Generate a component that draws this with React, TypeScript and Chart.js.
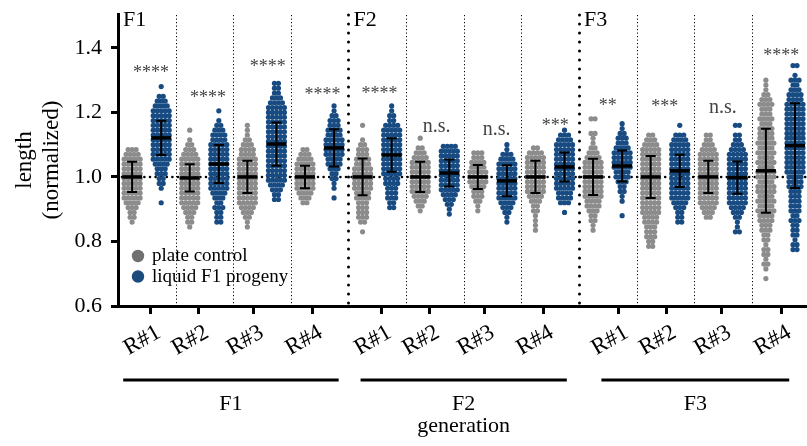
import React, { useEffect, useRef } from 'react';
import { Chart, registerables } from 'chart.js';

Chart.register(...registerables);

// ---------------- data ----------------
const generations = ['F1', 'F2', 'F3'];
const replicates = ['R#1', 'R#2', 'R#3', 'R#4'];
const xTickLabels = generations.flatMap(() => replicates);
// tick marks (in group units; group i spans [i, i+1])
const xTickPos = [0.572, 1.405, 2.358, 3.381, 4.578, 5.41, 6.364, 7.387, 8.688, 9.52, 10.474, 11.514];
const yTicks = [0.6, 0.8, 1.0, 1.2, 1.4];

// beeswarm rows: value of first row and number of dots per row (row step ROW_STEP)
const ROW_STEP = 0.015;
const plateStart = [0.86, 0.845, 0.845, 0.92, 0.83, 0.895, 0.895, 0.835, 0.835, 0.785, 0.875, 0.685];
const plateCounts = [
  [1, 2, 2, 3, 4, 5, 5, 5, 5, 5, 5, 5, 5, 5, 4, 3],
  [1, 2, 2, 3, 4, 5, 5, 5, 5, 5, 5, 5, 5, 5, 5, 4, 3, 2, 1, 0, 1],
  [1, 1, 2, 3, 4, 5, 5, 5, 5, 5, 5, 5, 5, 5, 5, 4, 4, 3, 2, 1, 1, 1],
  [2, 3, 4, 5, 5, 5, 5, 5, 5, 4, 3, 2],
  [1, 0, 2, 3, 3, 3, 3, 4, 4, 5, 5, 5, 5, 5, 4, 4, 3, 3, 2, 1, 0, 0, 1],
  [1, 2, 3, 4, 5, 5, 5, 5, 5, 5, 5, 4, 3, 2, 0, 1],
  [1, 1, 2, 3, 3, 4, 5, 5, 5, 4, 4, 3, 3],
  [1, 1, 1, 1, 2, 2, 3, 4, 5, 5, 5, 5, 5, 5, 5, 5, 4, 2],
  [1, 1, 2, 2, 3, 4, 4, 5, 5, 5, 5, 5, 5, 5, 5, 4, 3, 2, 1, 1, 2, 0, 0, 2],
  [2, 2, 3, 3, 3, 4, 4, 5, 5, 5, 5, 5, 5, 5, 5, 5, 5, 5, 5, 5, 5, 4, 3, 2],
  [2, 3, 4, 5, 5, 5, 5, 5, 5, 5, 5, 5, 5, 5, 4, 3, 2, 2],
  [1, 0, 1, 2, 1, 2, 2, 1, 2, 2, 3, 3, 4, 4, 5, 4, 5, 4, 5, 5, 4, 5, 5, 4, 5, 4, 5, 4, 5, 4, 4, 4, 3, 4, 3, 3, 4, 3, 2, 1, 1, 1],
];
const liquidStart = [0.92, 0.86, 0.93, 0.935, 0.905, 0.885, 0.86, 0.89, 0.88, 0.86, 0.83, 0.775];
const liquidCounts = [
  [1, 0, 0, 1, 2, 2, 3, 3, 4, 5, 5, 5, 5, 5, 5, 5, 5, 5, 5, 5, 4, 3, 2, 0, 1],
  [2, 2, 2, 3, 2, 3, 4, 5, 5, 5, 5, 5, 5, 5, 5, 5, 5, 4, 4, 3, 2, 1, 0, 1],
  [2, 2, 3, 4, 5, 5, 5, 5, 5, 5, 5, 5, 5, 5, 5, 5, 5, 5, 5, 5, 4, 3, 2, 2, 2],
  [1, 0, 1, 1, 2, 2, 3, 4, 4, 5, 5, 5, 5, 4, 4, 3, 3, 2, 1, 1],
  [2, 2, 3, 3, 3, 4, 4, 5, 5, 5, 5, 5, 5, 5, 5, 5, 5, 4, 2, 2, 1, 1],
  [1, 1, 2, 3, 4, 5, 5, 5, 5, 5, 5, 5, 5, 5, 4],
  [1, 1, 2, 3, 4, 5, 5, 5, 5, 5, 5, 5, 5, 4, 3, 1, 1],
  [1, 0, 3, 4, 4, 5, 5, 5, 5, 5, 5, 5, 5, 5, 5, 4, 3, 1],
  [1, 0, 0, 1, 1, 2, 2, 3, 4, 4, 5, 5, 5, 5, 4, 3, 3, 2, 1, 1],
  [2, 2, 2, 3, 4, 5, 5, 5, 5, 5, 5, 5, 5, 5, 5, 5, 5, 4, 3, 0, 1],
  [2, 1, 1, 2, 3, 4, 5, 5, 5, 5, 5, 5, 5, 5, 5, 5, 5, 4, 3, 2, 2, 0, 2],
  [2, 2, 1, 2, 2, 2, 3, 2, 3, 3, 3, 3, 3, 4, 4, 4, 5, 5, 5, 5, 5, 5, 5, 5, 5, 5, 5, 5, 5, 5, 5, 4, 4, 3, 2, 3, 1, 0, 2],
];
const plateMean = [1.0, 0.997, 1.0, 1.0, 1.0, 1.0, 1.0, 1.0, 1.0, 1.0, 1.0, 1.019];
const plateSD = [0.047, 0.042, 0.05, 0.035, 0.057, 0.047, 0.037, 0.05, 0.056, 0.065, 0.05, 0.13];
const liquidMean = [1.121, 1.04, 1.102, 1.09, 1.068, 1.012, 0.988, 1.031, 1.034, 1.019, 0.998, 1.097];
const liquidSD = [0.053, 0.059, 0.067, 0.058, 0.052, 0.042, 0.048, 0.045, 0.048, 0.05, 0.05, 0.131];

const sigLabels = ['****', '****', '****', '****', '****', 'n.s.', 'n.s.', '***', '**', '***', 'n.s.', '****'];
const sigX = [0.572, 1.56, 2.6, 3.55, 4.54, 5.53, 6.57, 7.59, 8.5, 9.49, 10.5, 11.51];
const sigY = [1.307, 1.228, 1.324, 1.239, 1.243, 1.14, 1.13, 1.143, 1.205, 1.2, 1.198, 1.358];

const genBracketStart = [0.09, 4.21, 8.39];
const genBracketEnd = [3.83, 7.79, 11.65];

// ---------------- styles ----------------
const FONT = '"Liberation Serif", "Times New Roman", serif';
const GRAY = '#8c8c8c';
const BLUE = '#174b82';
const LEGEND_GRAY = '#707070';
const LEGEND_BLUE = '#1b4b7d';
const PLATE_OFFSET = 0.245;
const LIQUID_OFFSET = 0.75;
const SWARM_DX = 4.0 / 57.67;

function buildPoints(starts: number[], counts: number[][], offset: number) {
  const pts: { x: number; y: number }[] = [];
  counts.forEach((rows, g) => {
    rows.forEach((k, r) => {
      const yv = starts[g] + r * ROW_STEP;
      for (let j = 0; j < k; j++) {
        pts.push({ x: g + offset + (j - (k - 1) / 2) * SWARM_DX, y: yv });
      }
    });
  });
  return pts;
}

const decorPlugin = {
  id: 'decor',
  beforeDatasetsDraw(chart: any) {
    const { ctx, chartArea: ca, scales } = chart;
    const x = scales.x, y = scales.y;
    ctx.save();
    ctx.strokeStyle = '#000';
    for (let i = 1; i < 12; i++) {
      const px = Math.round(x.getPixelForValue(i)) + 0.5;
      ctx.beginPath();
      if (i % 4 === 0) {
        ctx.lineWidth = 3;
        ctx.lineCap = 'round';
        ctx.setLineDash([0, 9]);
      } else {
        ctx.lineWidth = 1;
        ctx.lineCap = 'butt';
        ctx.setLineDash([1.2, 2.3]);
      }
      ctx.moveTo(px, ca.top + 1);
      ctx.lineTo(px, ca.bottom);
      ctx.stroke();
    }
    const py = y.getPixelForValue(1.0);
    ctx.beginPath();
    ctx.lineWidth = 2.6;
    ctx.lineCap = 'round';
    ctx.setLineDash([0, 5.6]);
    ctx.moveTo(ca.left + 4, py);
    ctx.lineTo(ca.right, py);
    ctx.stroke();
    ctx.restore();
  },
  afterDatasetsDraw(chart: any) {
    const { ctx, chartArea: ca, scales } = chart;
    const x = scales.x, y = scales.y;
    ctx.save();
    ctx.strokeStyle = '#000';
    ctx.setLineDash([]);
    ctx.lineCap = 'butt';
    const drawErr = (xc: number, m: number, sd: number) => {
      const px = x.getPixelForValue(xc);
      const pm = y.getPixelForValue(m);
      const pt = y.getPixelForValue(m + sd);
      const pb = y.getPixelForValue(m - sd);
      ctx.lineWidth = 2;
      ctx.beginPath();
      ctx.moveTo(px, pt);
      ctx.lineTo(px, pb);
      ctx.moveTo(px - 5, pt);
      ctx.lineTo(px + 5, pt);
      ctx.moveTo(px - 5, pb);
      ctx.lineTo(px + 5, pb);
      ctx.stroke();
      ctx.lineWidth = 3.5;
      ctx.beginPath();
      ctx.moveTo(px - 10, pm);
      ctx.lineTo(px + 10, pm);
      ctx.stroke();
    };
    for (let g = 0; g < 12; g++) {
      drawErr(g + PLATE_OFFSET, plateMean[g], plateSD[g]);
      drawErr(g + LIQUID_OFFSET, liquidMean[g], liquidSD[g]);
    }
    // significance labels
    ctx.fillStyle = '#444';
    ctx.textAlign = 'center';
    ctx.textBaseline = 'alphabetic';
    sigLabels.forEach((s, i) => {
      ctx.font = s === 'n.s.' ? `20px ${FONT}` : `18px ${FONT}`;
      ctx.fillText(s, x.getPixelForValue(sigX[i]), y.getPixelForValue(sigY[i]));
    });
    // panel labels
    ctx.fillStyle = '#000';
    ctx.font = `22px ${FONT}`;
    ctx.textAlign = 'left';
    generations.forEach((gname, i) => {
      ctx.fillText(gname, x.getPixelForValue(i * 4) + 5, ca.top + 12);
    });
    // legend
    const lx = ca.left + 20;
    const items = [
      { label: 'plate control', color: LEGEND_GRAY, y: 256 },
      { label: 'liquid F1 progeny', color: LEGEND_BLUE, y: 276.5 },
    ];
    ctx.font = `19px ${FONT}`;
    items.forEach((it) => {
      ctx.fillStyle = it.color;
      ctx.beginPath();
      ctx.arc(lx, it.y, 6.2, 0, Math.PI * 2);
      ctx.fill();
      ctx.fillStyle = '#000';
      ctx.fillText(it.label, lx + 14, it.y + 5);
    });
    ctx.restore();
  },
  afterDraw(chart: any) {
    const { ctx, chartArea: ca, scales } = chart;
    const x = scales.x;
    ctx.save();
    ctx.strokeStyle = '#000';
    ctx.fillStyle = '#000';
    ctx.lineWidth = 3.2;
    ctx.font = `22px ${FONT}`;
    ctx.textAlign = 'center';
    ctx.textBaseline = 'alphabetic';
    generations.forEach((gname, i) => {
      const x0 = x.getPixelForValue(genBracketStart[i]);
      const x1 = x.getPixelForValue(genBracketEnd[i]);
      ctx.beginPath();
      ctx.moveTo(x0, 380);
      ctx.lineTo(x1, 380);
      ctx.stroke();
      ctx.fillText(gname, (x0 + x1) / 2, 410);
    });
    ctx.fillText('generation', (ca.left + ca.right) / 2, 432);
    // y title
    ctx.font = `23px ${FONT}`;
    ctx.textBaseline = 'middle';
    const cy = (ca.top + ca.bottom) / 2;
    ctx.translate(25, cy);
    ctx.rotate(-Math.PI / 2);
    ctx.fillText('length', 0, 0);
    ctx.fillText('(normalized)', 0, 27);
    ctx.restore();
  },
};

export default function App() {
  const ref = useRef<HTMLCanvasElement | null>(null);
  useEffect(() => {
    if (!ref.current) return;
    Chart.defaults.font.family = FONT;
    Chart.defaults.color = '#000';
    const chart = new Chart(ref.current, {
      type: 'scatter',
      data: {
        datasets: [
          {
            label: 'plate control',
            data: buildPoints(plateStart, plateCounts, PLATE_OFFSET),
            backgroundColor: GRAY,
            borderWidth: 0,
            pointRadius: 2.6,
            pointHoverRadius: 2.6,
          },
          {
            label: 'liquid F1 progeny',
            data: buildPoints(liquidStart, liquidCounts, LIQUID_OFFSET),
            backgroundColor: BLUE,
            borderWidth: 0,
            pointRadius: 2.6,
            pointHoverRadius: 2.6,
          },
        ],
      },
      options: {
        responsive: false,
        animation: false,
        events: [],
        layout: { padding: { top: 14, right: 2, left: 0, bottom: 0 } },
        plugins: { legend: { display: false }, tooltip: { enabled: false } },
        scales: {
          x: {
            type: 'linear',
            min: 0,
            max: 12,
            afterBuildTicks: (s: any) => {
              s.ticks = xTickPos.map((v) => ({ value: v }));
            },
            afterFit: (s: any) => {
              s.height = 140;
              s.paddingLeft = 0;
              s.paddingRight = 0;
            },
            ticks: {
              autoSkip: false,
              minRotation: 30,
              maxRotation: 30,
              padding: 5,
              labelOffset: 8,
              color: '#000',
              font: { family: FONT, size: 23 },
              callback: (_v: any, i: number) => xTickLabels[i],
            },
            grid: {
              drawOnChartArea: false,
              drawTicks: true,
              tickLength: 8,
              tickWidth: 3,
              tickColor: '#000',
              color: '#000',
            },
            border: { display: true, color: '#000', width: 3 },
          },
          y: {
            type: 'linear',
            min: 0.6,
            max: 1.505,
            afterBuildTicks: (s: any) => {
              s.ticks = yTicks.map((v) => ({ value: v }));
            },
            afterFit: (s: any) => {
              s.width = 118;
              s.paddingTop = 0;
              s.paddingBottom = 0;
            },
            ticks: {
              padding: 9,
              color: '#000',
              font: { family: FONT, size: 22 },
              callback: (v: any) => Number(v).toFixed(1),
            },
            grid: {
              drawOnChartArea: false,
              drawTicks: true,
              tickLength: 7,
              tickWidth: 3,
              tickColor: '#000',
              color: '#000',
            },
            border: { display: true, color: '#000', width: 3 },
          },
        },
      },
      plugins: [decorPlugin],
    } as any);
    return () => chart.destroy();
  }, []);
  return (
    <div style={{ position: 'fixed', left: 0, top: 0, width: 812, height: 446, background: '#fff' }}>
      <canvas ref={ref} width={812} height={446} style={{ display: 'block', width: 812, height: 446 }} />
    </div>
  );
}
